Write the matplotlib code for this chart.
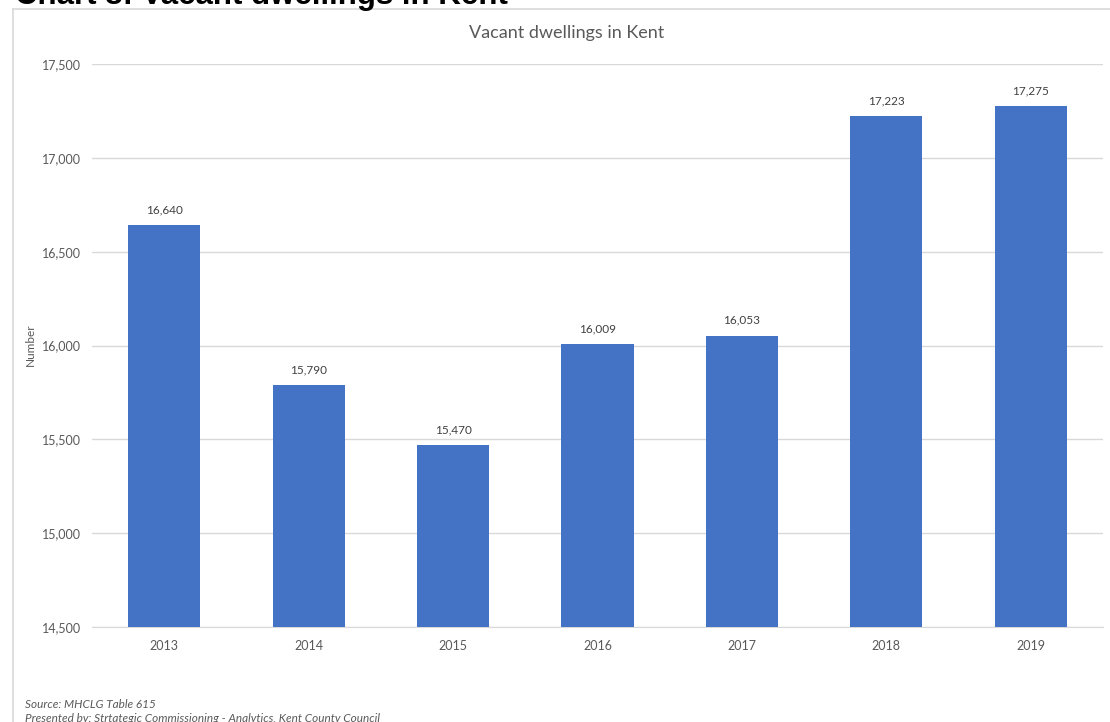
import matplotlib
matplotlib.use('Agg')
import matplotlib.pyplot as plt
from matplotlib.lines import Line2D

years = ['2013', '2014', '2015', '2016', '2017', '2018', '2019']
vacant = [16640, 15790, 15470, 16009, 16053, 17223, 17275]
y_ticks = [14500, 15000, 15500, 16000, 16500, 17000, 17500]

W, H = 1110, 722
plt.rcParams['font.family'] = ['Lato', 'DejaVu Sans']

fig = plt.figure(figsize=(W / 100, H / 100), dpi=100)

# chart frame (light grey, cut at right and bottom)
frame_col = '#D9D9D9'
fig.add_artist(Line2D([13 / W, 13 / W], [0, 1 - 9 / H], color=frame_col, lw=1.2,
                      transform=fig.transFigure))
fig.add_artist(Line2D([13 / W, 1], [1 - 9 / H, 1 - 9 / H], color=frame_col, lw=1.2,
                      transform=fig.transFigure))

# header, partly cut off at the top (as in the source page)
fig.text(15 / W, 1 - 4 / H, 'Chart 8: Vacant dwellings in Kent', family='Liberation Sans',
         fontweight='bold', fontsize=22.5, color='black', va='baseline', ha='left')

ax = fig.add_axes([92 / W, 1 - 627 / H, (1103 - 92) / W, (627 - 64) / H])
x = range(len(years))
bars = ax.bar(x, vacant, width=0.5, color='#4472C4', zorder=3)

ax.set_xlim(-0.5, len(years) - 0.5)
ax.set_ylim(14500, 17500)
ax.set_yticks(y_ticks)
ax.set_yticklabels([f'{v:,}' for v in y_ticks])
ax.set_xticks(list(x))
ax.set_xticklabels(years)
ax.grid(axis='y', color=frame_col, lw=1, zorder=0)
for s in ['top', 'right', 'left']:
    ax.spines[s].set_visible(False)
ax.spines['bottom'].set_color(frame_col)
ax.tick_params(axis='both', length=0, labelsize=9, labelcolor='#595959')
ax.tick_params(axis='y', pad=8)
ax.tick_params(axis='x', pad=9)

for b, v in zip(bars, vacant):
    ax.annotate(f'{v:,}', (b.get_x() + b.get_width() / 2, v), xytext=(0, 7),
                textcoords='offset points', ha='center', va='bottom',
                fontsize=8.5, color='#404040')

fig.text(567 / W, 1 - 33 / H, 'Vacant dwellings in Kent', ha='center', va='center',
         fontsize=13, color='#595959')
fig.text(30 / W, 1 - 345 / H, 'Number', rotation=90, ha='center', va='center',
         fontsize=8.5, color='#595959')

fig.text(25 / W, 1 - 704 / H, 'Source: MHCLG Table 615', style='italic',
         fontsize=8.5, color='#595959', va='center')
fig.text(25 / W, 1 - 718 / H,
         'Presented by: Strtategic Commissioning - Analytics, Kent County Council',
         style='italic', fontsize=8.5, color='#595959', va='center')

fig.savefig('out.png', dpi=100)
